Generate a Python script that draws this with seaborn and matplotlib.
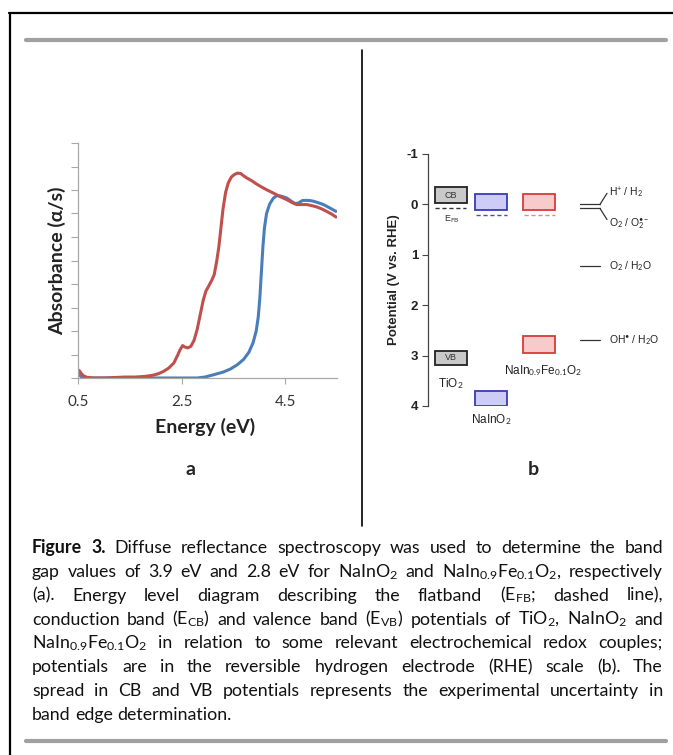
import matplotlib
matplotlib.use("Agg")
import matplotlib.pyplot as plt
import numpy as np
import pandas as pd
import seaborn as sns
from matplotlib.lines import Line2D

W, H = 673, 755

# ---- panel a: diffuse reflectance spectra ----
energy_fe = [0.5, 0.53, 0.56, 0.6, 0.67, 0.8, 1.0, 1.2, 1.4, 1.6, 1.8, 1.95, 2.05, 2.15,
             2.25, 2.35, 2.42, 2.47, 2.52, 2.56, 2.62, 2.68, 2.74, 2.8, 2.86, 2.92, 2.97,
             3.02, 3.08, 3.13, 3.18, 3.22, 3.26, 3.3, 3.35, 3.4, 3.46, 3.52, 3.58, 3.64,
             3.7, 3.76, 3.85, 3.95, 4.05, 4.15, 4.27, 4.4, 4.53, 4.62, 4.72, 4.82, 4.92,
             5.02, 5.11, 5.2, 5.3, 5.4, 5.48]
abs_fe = [0.035, 0.03, 0.02, 0.01, 0.003, 0.0, 0.0, 0.002, 0.004, 0.004, 0.007, 0.012,
          0.018, 0.028, 0.042, 0.064, 0.095, 0.12, 0.138, 0.132, 0.128, 0.135, 0.16,
          0.206, 0.27, 0.333, 0.37, 0.39, 0.415, 0.44, 0.5, 0.56, 0.64, 0.72, 0.79, 0.83,
          0.855, 0.866, 0.872, 0.87, 0.86, 0.851, 0.84, 0.825, 0.812, 0.8, 0.787, 0.772,
          0.759, 0.748, 0.738, 0.738, 0.738, 0.733, 0.728, 0.72, 0.709, 0.697, 0.685]

energy_in = [0.5, 0.53, 0.58, 0.65, 1.0, 2.0, 2.8, 2.95, 3.12, 3.3, 3.44, 3.58, 3.7, 3.8,
             3.88, 3.94, 3.98, 4.01, 4.04, 4.07, 4.1, 4.14, 4.2, 4.27, 4.34, 4.42, 4.53,
             4.62, 4.69, 4.76, 4.83, 4.9, 4.98, 5.05, 5.15, 5.24, 5.35, 5.48]
abs_in = [0.02, 0.012, 0.003, 0.0, 0.0, 0.0, 0.0, 0.004, 0.014, 0.025, 0.038, 0.057, 0.08,
          0.11, 0.15, 0.2, 0.26, 0.34, 0.45, 0.56, 0.64, 0.7, 0.74, 0.765, 0.776, 0.774,
          0.766, 0.752, 0.742, 0.745, 0.755, 0.756, 0.755, 0.752, 0.745, 0.738, 0.725, 0.709]

# ---- panel b: band positions (V vs RHE) ----
materials = ["TiO$_2$", "NaInO$_2$", "NaIn$_{0.9}$Fe$_{0.1}$O$_2$"]
cb_top = [-0.34, -0.20, -0.20]
cb_bottom = [-0.03, 0.12, 0.12]
vb_top = [2.90, 3.70, 2.61]
vb_bottom = [3.19, 4.00, 2.94]
flatband = [0.07, 0.22, 0.22]

redox_labels = ["H$^{+}$ / H$_2$", "O$_2$ / O$_2^{\u2022-}$", "O$_2$ / H$_2$O", "OH$^{\u2022}$ / H$_2$O"]
redox_pot = [0.0, 0.08, 1.23, 2.69]

caption = [
    "Figure 3. Diffuse reflectance spectroscopy was used to determine the band",
    "gap values of 3.9 eV and 2.8 eV for NaInO$_2$ and NaIn$_{0.9}$Fe$_{0.1}$O$_2$, respectively",
    "(a). Energy level diagram describing the flatband (E$_{\\mathrm{FB}}$; dashed line),",
    "conduction band (E$_{\\mathrm{CB}}$) and valence band (E$_{\\mathrm{VB}}$) potentials of TiO$_2$, NaInO$_2$ and",
    "NaIn$_{0.9}$Fe$_{0.1}$O$_2$ in relation to some relevant electrochemical redox couples;",
    "potentials are in the reversible hydrogen electrode (RHE) scale (b). The",
    "spread in CB and VB potentials represents the experimental uncertainty in",
    "band edge determination.",
]

sns.set_style("white")
plt.rcParams["font.family"] = ["Lato", "DejaVu Sans"]
plt.rcParams["mathtext.fontset"] = "custom"
plt.rcParams["mathtext.rm"] = "Lato"
plt.rcParams["mathtext.it"] = "Lato:italic"
plt.rcParams["mathtext.bf"] = "Lato:bold"

fig = plt.figure(figsize=(W / 100, H / 100), dpi=100)


def rect(x0, y0, x1, y1):
    # pixel box (top-left origin) -> figure fraction
    return [x0 / W, 1 - y1 / H, (x1 - x0) / W, (y1 - y0) / H]


def fx(x):
    return x / W


def fy(y):
    return 1 - y / H


# frame and separators
fig.add_artist(Line2D([fx(9), fx(673)], [fy(13), fy(13)], color="black", lw=1.6))
fig.add_artist(Line2D([fx(10), fx(10)], [fy(13), fy(755)], color="black", lw=1.6))
fig.add_artist(Line2D([fx(26), fx(666)], [fy(39.5), fy(39.5)], color="#a0a0a0", lw=3))
fig.add_artist(Line2D([fx(26), fx(666)], [fy(741), fy(741)], color="#a0a0a0", lw=3))
fig.add_artist(Line2D([fx(362), fx(362)], [fy(50), fy(526)], color="black", lw=1.2))

# ---- panel a ----
ax1 = fig.add_axes(rect(78, 143, 337, 378))
df = pd.concat([
    pd.DataFrame({"E": energy_fe, "A": abs_fe, "s": "NaIn0.9Fe0.1O2"}),
    pd.DataFrame({"E": energy_in, "A": abs_in, "s": "NaInO2"}),
])
sns.lineplot(data=df[df.s == "NaInO2"], x="E", y="A", color="#4a7ebb", lw=2.2, ax=ax1,
             sort=False, legend=False)
sns.lineplot(data=df[df.s != "NaInO2"], x="E", y="A", color="#c0504d", lw=2.2, ax=ax1,
             sort=False, legend=False)
ax1.set_xlim(0.5, 5.5)
ax1.set_ylim(0, 1)
ax1.set_xticks([0.5, 2.5, 4.5])
ax1.set_xticklabels(["0.5", "2.5", "4.5"])
ax1.set_yticks(np.arange(0, 1.01, 0.1))
ax1.set_yticklabels([])
for s in ["top", "right"]:
    ax1.spines[s].set_visible(False)
for s in ["left", "bottom"]:
    ax1.spines[s].set_color("#a8a8a8")
    ax1.spines[s].set_linewidth(0.9)
ax1.tick_params(axis="y", length=5, width=0.8, color="#a8a8a8", direction="out", left=True)
ax1.tick_params(axis="x", length=4, width=0.8, color="#a8a8a8", direction="out", bottom=True,
                labelsize=11, labelcolor="#333333", pad=8)
ax1.set_xlabel("Energy (eV)", fontsize=14, weight="bold", color="#222222")
ax1.set_ylabel("Absorbance (\u03b1/s)", fontsize=14, weight="bold", color="#222222")
ax1.xaxis.set_label_coords(0.49, -0.17)
ax1.yaxis.set_label_coords(-0.045, 0.5)
fig.text(fx(190), fy(470), "a", fontsize=14, weight="bold", ha="center", va="center")

# ---- panel b ----
narrow = ["Liberation Sans Narrow", "Liberation Sans", "DejaVu Sans"]
ax2 = fig.add_axes(rect(428, 154, 673, 406))
centers = [22.5, 63.3, 111]
fills = ["#c9c9c9", "#ccccf6", "#f9caca"]
edges = ["#222222", "#3a3ab4", "#d83a3a"]
dash_cols = ["#333333", "#4848cc", "#e08a8a"]
ax2.bar(centers, np.array(cb_bottom) - np.array(cb_top), bottom=cb_top, width=32,
        color=fills, edgecolor=edges, linewidth=1.3)
ax2.bar(centers, np.array(vb_bottom) - np.array(vb_top), bottom=vb_top, width=32,
        color=fills, edgecolor=edges, linewidth=1.3)
for c, fb, col in zip(centers, flatband, dash_cols):
    ax2.hlines(fb, c - 15.5, c + 15.5, colors=col, linestyles=(0, (3, 2)), lw=1)

ax2.text(centers[0], (cb_top[0] + cb_bottom[0]) / 2, "CB", ha="center", va="center",
         fontsize=6.5, family=narrow, color="#333333")
ax2.text(centers[0], (vb_top[0] + vb_bottom[0]) / 2, "VB", ha="center", va="center",
         fontsize=6.5, family=narrow, color="#333333")
ax2.text(centers[0] + 1, flatband[0] + 0.22, "E$_{\\mathrm{FB}}$", ha="center", va="center",
         fontsize=6.5, family=narrow, color="#333333")
ax2.text(centers[0], vb_bottom[0] + 0.37, materials[0], ha="center", va="center",
         fontsize=8.5, family=narrow, color="#222222")
ax2.text(centers[1], vb_bottom[1] + 0.27, materials[1], ha="center", va="center",
         fontsize=8.5, family=narrow, color="#222222")
ax2.text(centers[2] + 4, vb_bottom[2] + 0.35, materials[2], ha="center", va="center",
         fontsize=8.5, family=narrow, color="#222222")

# redox couples
for p in redox_pot:
    ax2.plot([152, 172], [p, p], color="#333333", lw=0.9)
ax2.plot([172, 179], [redox_pot[0], redox_pot[0] - 0.22], color="#333333", lw=0.9)
ax2.plot([172, 179], [redox_pot[1], redox_pot[1] + 0.22], color="#333333", lw=0.9)
label_y = [redox_pot[0] - 0.22, redox_pot[1] + 0.3, redox_pot[2], redox_pot[3]]
for lab, y in zip(redox_labels, label_y):
    ax2.text(181, y, lab, ha="left", va="center", fontsize=7.5, family=narrow, color="#222222")

ax2.set_xlim(0, 245)
ax2.set_ylim(4, -1)
ax2.set_yticks(range(-1, 5))
ax2.set_yticklabels(["-1", "0", "1", "2", "3", "4"], family=narrow, weight="bold", fontsize=9.5)
ax2.set_xticks([])
for s in ["top", "right", "bottom"]:
    ax2.spines[s].set_visible(False)
ax2.spines["left"].set_color("#444444")
ax2.spines["left"].set_linewidth(0.9)
ax2.tick_params(axis="y", length=4, width=0.8, color="#444444", direction="out", left=True,
                pad=3, labelcolor="#222222")
ax2.set_ylabel("Potential (V vs. RHE)", fontsize=9.5, weight="bold",
               family=["Liberation Sans", "DejaVu Sans"], color="#222222")
ax2.yaxis.set_label_coords(-0.115, 0.5)
fig.text(fx(533), fy(470), "b", fontsize=14, weight="bold", ha="center", va="center")

# ---- justified caption ----
renderer = fig.canvas.get_renderer()
left_px, right_px = 32, 663
base = 10.0
# measure at a base size, then pick the size that lets every line fit with normal spacing
measured = []
for i, line in enumerate(caption):
    words = line.split(" ")
    ts = [fig.text(0, 0, w, fontsize=base, weight="bold" if (i == 0 and j < 2) else "normal")
          for j, w in enumerate(words)]
    measured.append([t.get_window_extent(renderer).width for t in ts])
    for t in ts:
        t.remove()
space_em = 0.25 * base * 100 / 72
fits = [(right_px - left_px) / (sum(m) + space_em * (len(m) - 1)) for m in measured[:-1]]
cap_size = min(12.8, base * min(fits))

for i, line in enumerate(caption):
    words = line.split(" ")
    texts = []
    for j, w in enumerate(words):
        bold = (i == 0 and j < 2)
        t = fig.text(0, fy(553 + 23.85 * i), w, fontsize=cap_size, va="baseline", ha="left",
                     weight="bold" if bold else "normal", color="#111111")
        texts.append(t)
    widths = [t.get_window_extent(renderer).width for t in texts]
    if i == len(caption) - 1:
        gap = cap_size * 100 / 72 * 0.25
    else:
        gap = (right_px - left_px - sum(widths)) / (len(words) - 1)
    x = left_px
    for t, wd in zip(texts, widths):
        t.set_x(fx(x))
        x += wd + gap

fig.savefig("out.png", dpi=100)
